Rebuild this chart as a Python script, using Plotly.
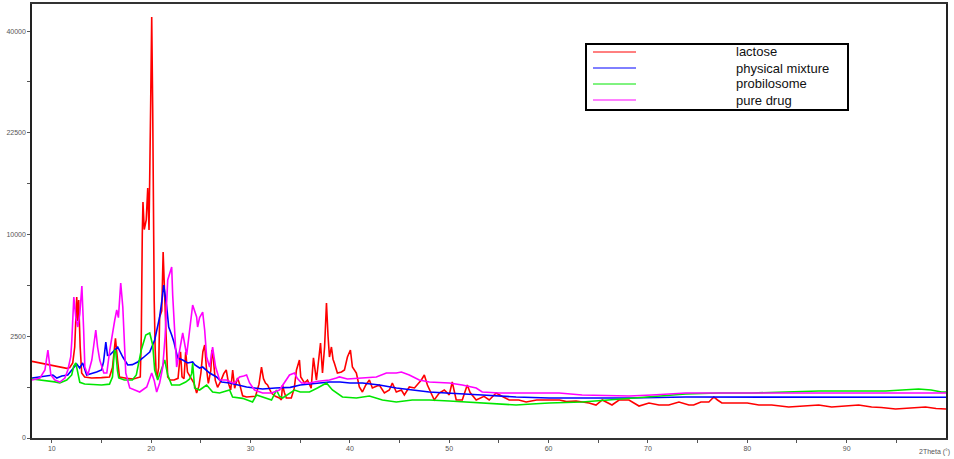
import numpy as np
import plotly.graph_objects as go

# ---- data: 2Theta (deg) and intensity (counts) ----
lactose_x = [8.0, 8.8, 9.6, 10.3, 11.0, 11.5, 11.8, 12.1, 12.3, 12.5, 12.6, 12.7, 12.85, 13.0, 13.3, 14.0, 15.0, 15.8, 16.1, 16.4, 16.6, 16.8, 17.5, 18.2, 18.9,
             19.0, 19.1, 19.17, 19.3, 19.5, 19.65, 19.78, 19.95, 20.05, 20.15, 20.22, 20.3, 20.4, 20.5, 20.6, 20.75, 20.85, 21.06, 21.2, 21.35, 21.5, 21.66,
             21.9, 22.3, 22.7, 22.95, 23.1, 23.3, 23.47, 23.65, 24.0, 24.3, 24.57, 24.8, 25.0, 25.2, 25.38, 25.55, 25.75, 26.0, 26.1, 26.25, 26.45, 26.68,
             27.0, 27.3, 27.55, 27.8, 28.0, 28.2, 28.4, 28.69, 28.9, 29.2, 29.6, 30.0, 30.5, 30.85, 31.1, 31.3, 31.5, 31.71, 32.1, 32.5, 32.9, 33.1, 33.22,
             33.4, 33.6, 34.1, 34.4, 34.62, 34.92, 35.05, 35.43, 35.73, 36.1, 36.33, 36.5, 36.63, 37.04, 37.24, 37.45, 37.64, 37.8, 37.94, 38.14, 38.3,
             38.44, 38.74, 39.15, 39.45, 39.75, 40.05, 40.25, 40.65, 40.95, 41.26, 41.6, 41.96, 42.26, 42.96, 43.47, 43.97, 44.27, 44.67, 45.18, 45.48,
             45.98, 46.5, 47.19, 47.49, 47.8, 48.19, 48.49, 48.99, 49.5, 50.0, 50.3, 50.7, 51.31, 51.81, 52.1, 52.71, 53.5, 54.02, 54.72, 55.3, 56.03,
             57.0, 57.74, 58.8, 60.05, 61.1, 61.8, 62.76, 64.07, 64.77, 65.4, 66.38, 67.09, 68.09, 69.1, 70.1, 71.11, 72.1, 73.12, 74.12, 74.6, 75.33,
             76.13, 76.63, 77.0, 77.44, 78.84, 80.0, 81.16, 82.46, 84.17, 85.88, 87.19, 88.49, 90.0, 91.21, 92.51, 93.5, 94.92, 96.23, 97.24, 97.94,
             99.0, 100.0]
lactose_y = [1420, 1360, 1300, 1250, 1200, 1170, 1200, 1360, 2000, 4800, 3300, 4600, 2000, 1020, 900, 870, 880, 900, 1200, 2400, 1500, 900, 860, 840, 900,
             2500, 10000, 13450, 10500, 11500, 15100, 10450, 27600, 42800, 26000, 10000, 4600, 1870, 1000, 900, 1200, 3540, 3900, 8355, 5600, 2500, 900,
             812, 812, 860, 1790, 900, 850, 1790, 1050, 870, 730, 490, 650, 1020, 1800, 2090, 1200, 720, 1100, 1870, 1500, 800, 620,
             780, 1000, 1117, 700, 556, 1117, 600, 870, 700, 430, 406, 406, 420, 700, 1217, 850, 731, 680, 489, 420, 386, 350, 678,
             500, 386, 386, 600, 1117, 1470, 900, 731, 812, 600, 1550, 1000, 812, 2180, 1020, 2000, 4400, 2500, 1584, 2000, 1500,
             1350, 1020, 1052, 1117, 1584, 1870, 1217, 1020, 628, 511, 678, 812, 604, 678, 489, 556, 731, 511, 556, 447,
             628, 604, 812, 959, 678, 489, 349, 489, 556, 450, 757, 349, 349, 678, 500, 349, 420, 349, 489, 420, 349,
             349, 313, 349, 349, 349, 320, 331, 296, 263, 349, 263, 349, 349, 247, 296, 263, 263, 313, 263, 263, 313,
             313, 406, 349, 296, 296, 296, 263, 263, 232, 247, 263, 232, 247, 263, 232, 225, 203, 217, 225, 232,
             210, 203]

mixture_x = [8.0, 8.8, 9.6, 10.1, 10.5, 11.0, 11.6, 12.0, 12.5, 12.8, 13.1, 13.5, 14.0, 14.5, 15.0, 15.2, 15.43, 15.6, 15.83, 16.33, 16.63, 17.14,
             17.64, 18.1, 18.64, 19.15, 19.85, 20.35, 20.85, 21.1, 21.26, 21.56, 21.76, 22.06, 22.3, 22.66, 23.17, 23.67, 24.17, 24.4, 24.87, 25.18,
             25.88, 26.58, 27.09, 27.89, 28.69, 29.6, 30.4, 31.21, 32.5, 34.0, 35.0, 36.23, 37.94, 39.0, 40.0, 41.26, 42.96, 44.67, 46.28, 47.99,
             49.7, 51.0, 53.32, 56.73, 60.05, 64.0, 68.09, 73.82, 80.45, 87.19, 93.92, 99.55, 100.0]
mixture_y = [869, 899, 930, 959, 869, 930, 959, 1117, 1320, 1183, 1358, 959, 1000, 1052, 1117, 1400, 2226, 1650, 1664, 1870, 2000, 1584,
             1287, 1300, 1395, 1546, 1786, 2319, 3540, 4700, 5650, 4150, 2976, 2562, 2200, 1546, 1469, 1358, 1395, 1290, 1183, 1217,
             1020, 899, 757, 731, 678, 628, 604, 580, 604, 620, 678, 704, 757, 757, 731, 731, 678, 604, 556, 511,
             489, 468, 447, 406, 386, 386, 386, 406, 406, 406, 406, 406, 400]

probilosome_x = [8.0, 9.0, 9.6, 10.3, 10.8, 11.5, 12.0, 12.2, 12.41, 12.6, 12.81, 13.3, 14.0, 15.0, 15.8, 16.1, 16.3, 16.43, 16.6, 16.73, 17.3,
                 18.1, 18.5, 18.84, 19.0, 19.45, 19.85, 20.15, 20.35, 20.65, 21.06, 21.36, 21.66, 22.06, 22.86, 23.47, 23.87, 24.07, 24.17, 24.3,
                 24.37, 24.87, 25.58, 26.18, 26.88, 27.89, 28.19, 29.2, 29.6, 30.2, 30.6, 31.21, 31.71, 32.11, 32.61, 32.91, 33.22, 33.92, 34.42,
                 35.0, 35.93, 36.73, 37.64, 38.24, 38.94, 39.25, 40.65, 41.96, 43.27, 44.67, 46.28, 47.99, 50.0, 51.71, 53.32, 56.73, 58.3, 60.05,
                 63.37, 66.08, 68.09, 70.4, 73.82, 77.14, 80.45, 83.87, 87.19, 91.21, 93.92, 97.24, 98.5, 99.55, 100.0]
probilosome_y = [841, 812, 790, 760, 731, 812, 960, 1250, 1360, 1000, 750, 704, 690, 680, 700, 900, 1870, 1800, 1100, 869, 812,
                 812, 959, 1500, 1870, 2562, 2663, 2089, 1117, 812, 1217, 1469, 959, 678, 678, 757, 841, 1000, 1358, 800,
                 604, 556, 678, 511, 489, 556, 406, 380, 349, 313, 447, 406, 380, 349, 556, 420, 386, 489, 556,
                 511, 511, 604, 731, 556, 447, 406, 386, 426, 349, 313, 349, 349, 331, 313, 296, 263, 279, 296,
                 313, 349, 386, 406, 468, 489, 489, 511, 533, 533, 533, 580, 556, 511, 511]

drug_x = [8.0, 8.8, 9.3, 9.6, 9.9, 10.3, 10.8, 11.31, 11.61, 11.9, 12.01, 12.21, 12.41, 12.61, 12.81, 13.02, 13.2, 13.32, 13.62, 14.02, 14.42,
          14.6, 14.82, 15.23, 15.53, 15.83, 16.33, 16.53, 16.7, 16.93, 17.14, 17.3, 17.44, 17.84, 18.84, 19.55, 20.05, 20.3, 20.55, 20.85, 21.16,
          21.4, 21.66, 22.06, 22.16, 22.56, 22.86, 23.17, 23.57, 23.87, 24.17, 24.57, 24.67, 24.87, 25.18, 25.38, 25.58, 25.88, 26.18, 26.48,
          26.88, 27.59, 28.19, 28.39, 28.89, 29.3, 29.6, 29.9, 30.4, 31.21, 32.11, 32.91, 33.62, 33.92, 34.42, 34.7, 35.13, 35.93, 36.8, 37.94,
          38.64, 38.94, 39.75, 41.26, 42.66, 43.67, 44.67, 45.18, 45.98, 46.98, 47.99, 50.0, 51.31, 52.71, 53.32, 55.03, 56.73, 58.34, 61.06,
          63.37, 68.09, 70.4, 73.82, 80.45, 87.0, 93.92, 99.55, 100.0]
drug_y = [812, 869, 1117, 1870, 959, 812, 757, 869, 1117, 1600, 2319, 4801, 3500, 2976, 3700, 5580, 2800, 1217, 959, 1469, 2817,
          2000, 1469, 1020, 1020, 1870, 3363, 3957, 3500, 5802, 4145, 2000, 1020, 604, 511, 628, 1020, 800, 511, 731, 1217,
          2500, 6029, 7062, 4938, 1217, 1870, 2663, 1664, 2976, 4272, 3536, 2976, 3500, 3830, 2817, 1584, 1217, 2000, 1217,
          812, 812, 731, 731, 899, 930, 959, 731, 556, 489, 489, 556, 812, 959, 1020, 860, 731, 731, 780, 812,
          869, 900, 840, 869, 899, 1020, 1020, 1052, 959, 812, 757, 731, 678, 604, 511, 489, 489, 489, 489,
          447, 426, 447, 489, 489, 489, 489, 489, 489]

series_names = ["lactose", "physical mixture", "probilosome", "pure drug"]
series_colors = ["#ff0000", "#0000ff", "#00e600", "#ff00ff"]

y_tick_values = [0, 2500, 10000, 22500, 40000]
y_minor_values = [625, 5625, 15625, 30625]
x_tick_values = [10, 20, 30, 40, 50, 60, 70, 80, 90]
x_minor_values = [15, 25, 35, 45, 55, 65, 75, 85, 95]

FONT = "Liberation Sans, Arial, sans-serif"

fig = go.Figure()
for xs, ys, name, col in zip([lactose_x, mixture_x, probilosome_x, drug_x],
                             [lactose_y, mixture_y, probilosome_y, drug_y],
                             series_names, series_colors):
    fig.add_trace(go.Scatter(x=xs, y=np.sqrt(np.array(ys, dtype=float)), mode="lines",
                             name=name, line=dict(color=col, width=1.6), showlegend=False))

fig.update_layout(
    width=954, height=459,
    margin=dict(l=32, r=8, t=4, b=21),
    paper_bgcolor="white", plot_bgcolor="white",
    font=dict(family=FONT, size=7, color="#555555"),
    xaxis=dict(range=[8, 100], showgrid=False, zeroline=False, showline=True,
               linecolor="#333333", linewidth=1.5, mirror=True, automargin=False,
               tickmode="array", tickvals=x_tick_values, ticktext=[str(v) for v in x_tick_values],
               ticks="outside", ticklen=3, tickcolor="#555555",
               minor=dict(tickmode="array", tickvals=x_minor_values, ticks="outside", ticklen=3, tickcolor="#555555"),
               tickfont=dict(size=7, color="#555555")),
    yaxis=dict(range=[0, 213.3], showgrid=False, zeroline=False, showline=True,
               linecolor="#222222", linewidth=1.5, mirror=True, automargin=False,
               tickmode="array", tickvals=list(np.sqrt(y_tick_values)), ticktext=[str(v) for v in y_tick_values],
               ticks="outside", ticklen=3, tickcolor="#555555",
               minor=dict(tickmode="array", tickvals=list(np.sqrt(y_minor_values)), ticks="outside", ticklen=3, tickcolor="#555555"),
               tickfont=dict(size=7, color="#555555")),
)

# legend box built from shapes & annotations (pixel -> paper conversion)
W, H = 954 - 32 - 8, 459 - 4 - 21
def px(xpix):
    return (xpix - 32) / W
def py(ypix):
    return 1 - (ypix - 4) / H

# axis title (bottom right)
fig.add_annotation(text="2Theta (°)", xref="paper", yref="paper", x=px(952), y=py(452),
                   xanchor="right", yanchor="middle", showarrow=False,
                   font=dict(family=FONT, size=7, color="#555555"))

fig.add_shape(type="rect", xref="paper", yref="paper", x0=px(586), x1=px(848), y0=py(110), y1=py(44),
              line=dict(color="black", width=2), fillcolor="white")
rows = [52, 68, 84, 100]
for name, col, r in zip(series_names, series_colors, rows):
    fig.add_shape(type="line", xref="paper", yref="paper", x0=px(593), x1=px(636), y0=py(r), y1=py(r),
                  line=dict(color=col, width=1))
    fig.add_annotation(text=name, xref="paper", yref="paper", x=px(734), y=py(r),
                       xanchor="left", yanchor="middle", showarrow=False,
                       font=dict(family=FONT, size=13, color="#111111"))

fig.write_html("out.html", config={"displayModeBar": False},
               post_script="document.body.style.margin='0px';document.body.style.overflow='hidden';")
